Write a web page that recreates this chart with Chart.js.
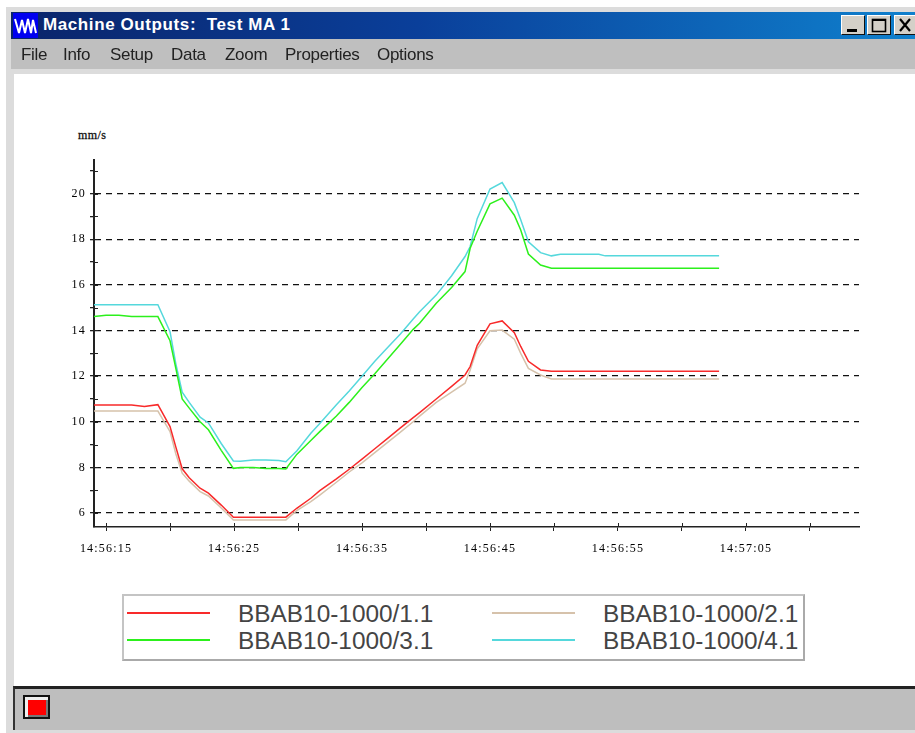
<!DOCTYPE html>
<html lang="en">
<head>
  <meta charset="UTF-8" />
  <title>Machine Outputs: Test MA 1</title>
  <script src="https://cdn.jsdelivr.net/npm/chart.js"></script>
  <style>
    html, body { margin: 0; padding: 0; background: #fff; width: 915px; height: 733px; overflow: hidden; }
    .abs { position: absolute; }
    #frame { left: 6px; top: 7px; width: 909px; height: 726px; background: #dcdcdc; }
    #titlebar { left: 11px; top: 12px; width: 904px; height: 27px; background: linear-gradient(90deg, #0a246a 0%, #0a3f9a 45%, #0f80cd 100%); }
    #icon { left: 13px; top: 13px; width: 25px; height: 25px; background: #0000f0; }
    #title { left: 43px; top: 14px; color: #fff; font: bold 17px "Liberation Sans", sans-serif; letter-spacing: 0.6px; white-space: pre; line-height: 22px; }
    .winbtn { top: 15px; width: 24px; height: 20px; background: #d4d0c8; box-sizing: border-box; border: 1px solid; border-color: #fff #111 #111 #fff; color: #000; }
    #menubar { left: 11px; top: 39px; width: 904px; height: 30px; background: #bfbfbf; }
    .menu { top: 44px; color: #222; font: 17px "Liberation Sans", sans-serif; letter-spacing: -0.3px; line-height: 22px; }
    #client { left: 14px; top: 74px; width: 901px; height: 612px; background: #fff; }
    #unit { left: 78px; top: 128px; font: 12px "Liberation Serif", serif; letter-spacing: 0.4px; color: #111; -webkit-text-stroke: 0.3px #111; }
    #legend { left: 122px; top: 594px; width: 683px; height: 67px; box-sizing: border-box; border: 2px solid; border-color: #c4c4c4 #aaa #aaa #c4c4c4; background: #fff; }
    .legline { height: 2px; width: 83px; }
    .legtext { font: 24.4px "Liberation Sans", sans-serif; color: #444; line-height: 28px; white-space: nowrap; }
    #status { left: 13px; top: 686px; width: 902px; height: 44px; box-sizing: border-box; border-top: 3px solid #222; border-left: 2px solid #333; background: #bebebe; }
    #stopbtn { left: 23px; top: 695px; width: 27px; height: 24px; box-sizing: border-box; background: #f00; border: 2px solid #111; box-shadow: inset 3px 3px 0 #eee, inset -2px -2px 0 #777; }
    #chart { position: absolute; left: 0; top: 0; }
  </style>
</head>
<body>
  <div class="abs" id="frame"></div>
  <div class="abs" id="titlebar"></div>
  <div class="abs" id="icon">
    <svg width="25" height="25"><polyline points="2,6 6,20 9,7 12,20 15,6 18,20 20,7 23,20" fill="none" stroke="#fff" stroke-width="2"/></svg>
  </div>
  <div class="abs" id="title">Machine Outputs:  Test MA 1</div>
  <div class="abs winbtn" style="left:841px"><svg width="22" height="18"><rect x="5" y="13" width="10" height="3" fill="#000"/></svg></div>
  <div class="abs winbtn" style="left:867px"><svg width="22" height="18"><rect x="4.5" y="3.5" width="13" height="12" fill="none" stroke="#000" stroke-width="1.6"/><rect x="4" y="3" width="14" height="2" fill="#000"/></svg></div>
  <div class="abs winbtn" style="left:894px;width:21px;border-right:none"><svg width="20" height="18"><path d="M5 3 L15 15 M15 3 L5 15" stroke="#000" stroke-width="2.2"/></svg></div>
  <div class="abs" id="menubar"></div>
  <div class="abs" id="client"></div>
  <div class="abs" id="status"></div>
  <div class="abs" id="stopbtn"></div>
  <div class="abs" id="unit">mm/s</div>
  <div class="abs" id="legend"></div>
  <canvas id="chart" width="915" height="733"></canvas>

  <script>
    // time axis is in seconds after 14:56:00
    const times = [14.06,15,16,17,18,19.05,20,20.45,20.95,21.5,22.35,23,24,24.95,25.5,26.5,27.5,28.5,29.05,29.9,31,31.7,33,34,35,36,37,38,39,39.5,40.8,42,43.05,43.45,44,45,45.95,46.9,47.4,48,48.95,49.8,50.5,53.5,54,58,62.9];
    const seriesRed = [10.74,10.74,10.74,10.74,10.67,10.75,9.79,8.9,7.94,7.55,7.09,6.87,6.35,5.82,5.82,5.82,5.82,5.82,5.82,6.21,6.65,6.98,7.5,7.92,8.36,8.82,9.27,9.73,10.18,10.4,11.0,11.55,12.05,12.42,13.35,14.29,14.42,13.9,13.3,12.65,12.27,12.21,12.21,12.21,12.21,12.21,12.21];
    const seriesTan = [10.47,10.47,10.47,10.47,10.47,10.47,9.57,8.6,7.75,7.4,6.94,6.75,6.22,5.7,5.7,5.7,5.7,5.7,5.7,6.11,6.5,6.79,7.35,7.8,8.2,8.65,9.1,9.55,10.0,10.25,10.85,11.3,11.69,12.27,13.2,13.99,14.02,13.62,13.0,12.34,12.05,11.88,11.88,11.88,11.88,11.88,11.88];
    const seriesGreen = [14.61,14.67,14.67,14.61,14.61,14.61,13.55,12.35,11.0,10.6,10.0,9.65,8.75,7.96,8.0,8.0,7.95,7.95,7.93,8.57,9.18,9.57,10.25,10.85,11.5,12.1,12.75,13.4,14.05,14.32,15.19,15.88,16.58,17.6,18.35,19.55,19.8,19.05,18.4,17.35,16.87,16.73,16.73,16.73,16.73,16.73,16.73];
    const seriesCyan = [15.13,15.13,15.13,15.13,15.13,15.13,13.95,12.55,11.3,10.85,10.2,9.95,9.05,8.28,8.27,8.33,8.33,8.3,8.25,8.72,9.5,9.93,10.75,11.35,12.0,12.65,13.25,13.85,14.5,14.82,15.55,16.4,17.24,17.68,18.9,20.2,20.48,19.6,18.85,17.89,17.41,17.27,17.34,17.34,17.27,17.27,17.27];
    const seriesNames = ['BBAB10-1000/1.1','BBAB10-1000/2.1','BBAB10-1000/3.1','BBAB10-1000/4.1'];
    const seriesColors = ['#f82a2a','#d6c2ab','#2cf01c','#55d8dc'];
    const xTicks = [15,20,25,30,35,40,45,50,55,60,65,70];
    const xLabels = {15:'14:56:15',25:'14:56:25',35:'14:56:35',45:'14:56:45',55:'14:56:55',65:'14:57:05'};
    const yTicks = [6,7,8,9,10,11,12,13,14,15,16,17,18,19,20,21];
    const menuItems = [['File',21],['Info',63],['Setup',110],['Data',171],['Zoom',225],['Properties',285],['Options',377]];

    menuItems.forEach(m => {
      const s = document.createElement('div');
      s.className = 'abs menu'; s.style.left = m[1] + 'px'; s.textContent = m[0];
      document.body.appendChild(s);
    });

    const legendBox = document.getElementById('legend');
    const legendSlots = [[3,16,114,4],[368,16,479,4],[3,43,114,31],[368,43,479,31]];
    seriesNames.forEach((name, i) => {
      const slot = legendSlots[i];
      legendBox.innerHTML += `<div class="abs legline" style="left:${slot[0]}px;top:${slot[1]}px;background:${seriesColors[i]}"></div>` +
        `<div class="abs legtext" style="left:${slot[2]}px;top:${slot[3]}px">${name}</div>`;
    });

    const toPoints = vals => vals.map((v, i) => ({ x: times[i], y: v }));
    const tickFont = { family: '"Liberation Serif", serif', size: 12 };

    // ticks cross the axis lines, the library only draws the outer half
    const innerTicks = {
      id: 'innerTicks',
      beforeDraw(chart) { chart.ctx.letterSpacing = '1.2px'; },
      afterDraw(chart) {
        const { ctx, scales: { x, y } } = chart;
        ctx.save();
        ctx.strokeStyle = '#222'; ctx.lineWidth = 1;
        ctx.beginPath();
        xTicks.forEach(t => { const p = Math.round(x.getPixelForValue(t)) + 0.5; ctx.moveTo(p, y.bottom); ctx.lineTo(p, y.bottom - 4); });
        yTicks.forEach(t => { const p = Math.round(y.getPixelForValue(t)) + 0.5; ctx.moveTo(x.left, p); ctx.lineTo(x.left + 4, p); });
        ctx.stroke();
        ctx.restore();
      }
    };

    new Chart(document.getElementById('chart'), {
      type: 'line',
      plugins: [innerTicks],
      data: {
        datasets: [seriesRed, seriesTan, seriesGreen, seriesCyan].map((vals, i) => ({
          label: seriesNames[i], data: toPoints(vals), borderColor: seriesColors[i],
          borderWidth: 1.5, pointRadius: 0, tension: 0, fill: false, order: i === 1 ? 5 : i
        }))
      },
      options: {
        responsive: false,
        animation: false,
        layout: { padding: { top: 160, right: 56, left: 0, bottom: 0 } },
        plugins: { legend: { display: false }, tooltip: { enabled: false } },
        scales: {
          x: {
            type: 'linear', min: 14.06, max: 73.83,
            afterBuildTicks: a => { a.ticks = xTicks.map(v => ({ value: v })); },
            afterFit: a => { a.height = 206; },
            border: { color: '#222', width: 1.5 },
            grid: { drawOnChartArea: false, tickLength: 4, tickColor: '#222' },
            ticks: { autoSkip: false, maxRotation: 0, padding: 11, color: '#000', font: tickFont, callback: v => xLabels[v] || '' }
          },
          y: {
            min: 5.39, max: 21.47,
            afterBuildTicks: a => { a.ticks = yTicks.map(v => ({ value: v })); },
            afterFit: a => { a.width = 94; },
            border: { color: '#222', width: 2, dash: [6, 5] },
            grid: {
              color: c => (c.tick && c.tick.value % 2 === 0) ? '#111' : 'rgba(0,0,0,0)',
              tickBorderDash: [], tickColor: '#222', tickLength: 4, lineWidth: 1.3
            },
            ticks: { autoSkip: false, padding: 4, color: '#000', font: tickFont, callback: v => v % 2 === 0 ? String(v) : '' }
          }
        }
      }
    });
  </script>
</body>
</html>
